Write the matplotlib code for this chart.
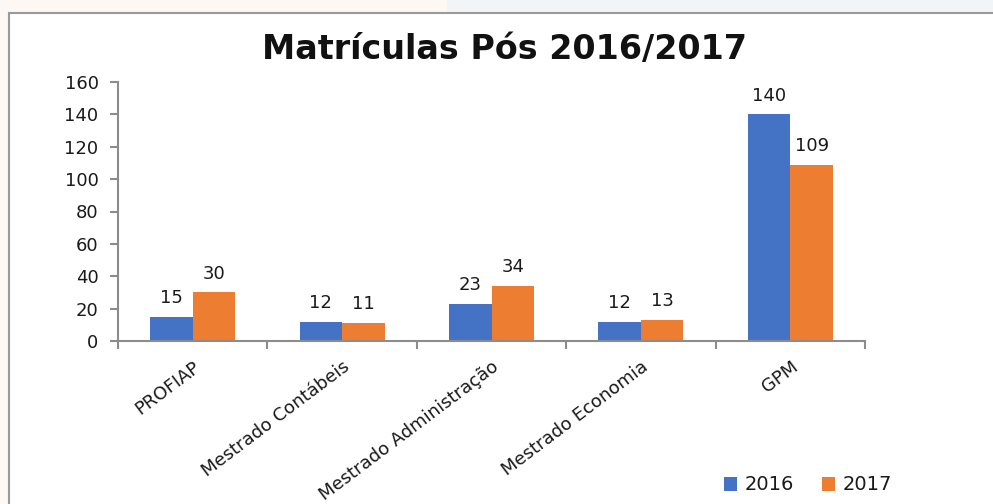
import numpy as np
import matplotlib.pyplot as plt
from matplotlib.patches import Rectangle

# data
categories = ['PROFIAP', 'Mestrado Contábeis', 'Mestrado Administração',
              'Mestrado Economia', 'GPM']
vals_2016 = [15, 12, 23, 12, 140]
vals_2017 = [30, 11, 34, 13, 109]
years = ['2016', '2017']

blue = '#4472C4'
orange = '#ED7D31'
axis_col = '#8c8c8c'
txt_col = '#1a1a1a'

plt.rcParams['font.family'] = 'DejaVu Sans'

fig = plt.figure(figsize=(9.93, 5.04), dpi=100)
fig.patch.set_facecolor('#fdf8f4')

# chart frame (white box with grey border)
fig.patches.append(Rectangle((0.45, 0.974), 0.56, 0.03, transform=fig.transFigure,
                             facecolor='#f2f5f7', edgecolor='none', zorder=-2))
fig.patches.append(Rectangle((9/993, -0.1), 1.2, 0.974 + 0.1, transform=fig.transFigure,
                             facecolor='white', edgecolor='#9a9a9a', lw=1.5, zorder=-1))

ax = fig.add_axes([118/993, 1 - 341/504, (865 - 118)/993, (341 - 82)/504])
ax.set_facecolor('none')
ax.set_zorder(2)

x = np.arange(len(categories))
w = 0.285
b1 = ax.bar(x - w/2, vals_2016, w, color=blue, label=years[0])
b2 = ax.bar(x + w/2, vals_2017, w, color=orange, label=years[1])

for bars in (b1, b2):
    for r in bars:
        ax.text(r.get_x() + r.get_width()/2, r.get_height() + 6, str(int(r.get_height())),
                ha='center', va='bottom', fontsize=13, color=txt_col)

ax.set_xlim(-0.5, len(categories) - 0.5)
ax.set_ylim(0, 160)
ax.set_yticks(np.arange(0, 161, 20))

ax.set_xticks(x)
ax.set_xticklabels(categories, rotation=37, ha='right', rotation_mode='anchor',
                   fontsize=13, color=txt_col)
ax.set_xticks(np.arange(-0.5, len(categories)), minor=True)
ax.tick_params(axis='x', which='major', length=0, pad=12)
ax.tick_params(axis='x', which='minor', length=6, color=axis_col, width=1.5)
ax.tick_params(axis='y', length=6, color=axis_col, width=1.5, labelsize=13,
               labelcolor=txt_col, pad=8)

for s in ['top', 'right']:
    ax.spines[s].set_visible(False)
for s in ['left', 'bottom']:
    ax.spines[s].set_color(axis_col)
    ax.spines[s].set_linewidth(1.5)

fig.text(505/993, 1 - 50/504, 'Matrículas Pós 2016/2017', ha='center', va='center',
         fontsize=24, fontweight='bold', color='#111111')

fig.legend(handles=[b1, b2], labels=years, loc='center',
           bbox_to_anchor=(808/993, 1 - 485/504), ncol=2, frameon=False,
           fontsize=14, handlelength=0.7, handleheight=0.7, handletextpad=0.4,
           columnspacing=1.4, labelcolor=txt_col)

fig.savefig('out.png', dpi=100, facecolor=fig.get_facecolor())
